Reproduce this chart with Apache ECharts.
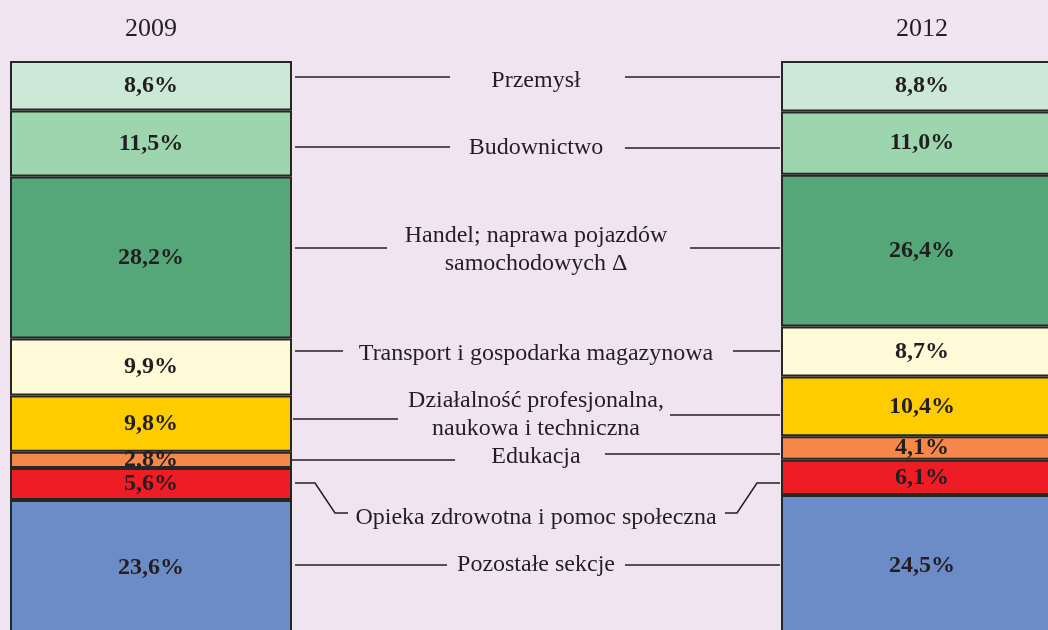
<!DOCTYPE html>
<html>
<head>
<meta charset="utf-8">
<script src="https://cdn.jsdelivr.net/npm/echarts@6/dist/echarts.min.js"></script>
<style>
  html, body { margin: 0; padding: 0; background: #f0e4f1; }
  #chart { width: 1048px; height: 630px; }
</style>
</head>
<body>
<div id="chart"></div>
<script>
// lata i udziały sekcji (%)
const years = ['2009', '2012'];
const sections = [
  'Przemysł',
  'Budownictwo',
  'Handel; naprawa pojazdów samochodowych',
  'Transport i gospodarka magazynowa',
  'Działalność profesjonalna, naukowa i techniczna',
  'Edukacja',
  'Opieka zdrowotna i pomoc społeczna',
  'Pozostałe sekcje',
];
const share2009 = [8.6, 11.5, 28.2, 9.9, 9.8, 2.8, 5.6, 23.6];
const share2012 = [8.8, 11.0, 26.4, 8.7, 10.4, 4.1, 6.1, 24.5];
const colors = ['#cce8d6', '#9dd5ae', '#55a678', '#fffbd9', '#ffcc00', '#f5874a', '#ee1c25', '#6b8cc6'];

const INK = '#231f20';
const SERIF = '"Liberation Serif", "DejaVu Serif", serif';

// opisy środkowe: linie łączące i teksty (adnotacje)
const notes = [
  { lines: ['Przemysł'], y: 81, left: [[295, 77], [450, 77]], right: [[625, 77], [780, 77]] },
  { lines: ['Budownictwo'], y: 148, left: [[295, 147], [450, 147]], right: [[625, 148], [780, 148]] },
  { lines: ['Handel; naprawa pojazdów', 'samochodowych \u0394'], y: 250, left: [[295, 248], [387, 248]], right: [[690, 248], [780, 248]] },
  { lines: ['Transport i gospodarka magazynowa'], y: 354, left: [[295, 351], [343, 351]], right: [[733, 351], [780, 351]] },
  { lines: ['Działalność profesjonalna,', 'naukowa i techniczna'], y: 415, left: [[293, 419], [398, 419]], right: [[670, 415], [780, 415]] },
  { lines: ['Edukacja'], y: 457, left: [[292, 460], [455, 460]], right: [[605, 454], [780, 454]] },
  { lines: ['Opieka zdrowotna i pomoc społeczna'], y: 518, left: [[295, 483], [315, 483], [335, 513], [348, 513]], right: [[725, 513], [737, 513], [757, 483], [780, 483]] },
  { lines: ['Pozostałe sekcje'], y: 565, left: [[295, 565], [447, 565]], right: [[625, 565], [780, 565]] },
];

const chart = echarts.init(document.getElementById('chart'), null, { renderer: 'canvas' });

const fmtPct = (v) => v.toFixed(1).replace('.', ',') + '%';

const series = sections.map((name, i) => ({
  name,
  type: 'bar',
  stack: 'total',
  barWidth: 282,
  clip: false,
  data: [share2009[i], share2012[i]],
  itemStyle: { color: colors[i], borderColor: '#262626', borderWidth: 2 },
  label: {
    show: true,
    position: 'inside',
    formatter: (p) => fmtPct(p.value),
    color: INK,
    fontFamily: SERIF,
    fontWeight: 'bold',
    fontSize: 24,
  },
  emphasis: { disabled: true },
}));

const graphic = [];
notes.forEach((n) => {
  [n.left, n.right].forEach((pts) => {
    graphic.push({
      type: 'polyline',
      shape: { points: pts },
      style: { stroke: INK, lineWidth: 1.5, fill: null },
      silent: true,
    });
  });
  const lh = 28;
  const y0 = n.y - (n.lines.length - 1) * lh / 2;
  n.lines.forEach((t, k) => {
    graphic.push({
      type: 'text',
      x: 536,
      y: y0 + k * lh,
      silent: true,
      style: {
        text: t,
        fill: INK,
        font: '24px ' + SERIF,
        textAlign: 'center',
        textVerticalAlign: 'middle',
      },
    });
  });
});

chart.setOption({
  backgroundColor: '#f0e4f1',
  animation: false,
  grid: { left: 151, right: 126, top: 61, bottom: 0 },
  xAxis: {
    type: 'category',
    data: years,
    boundaryGap: false,
    position: 'top',
    axisLine: { show: false },
    axisTick: { show: false },
    splitLine: { show: false },
    axisLabel: { color: INK, fontFamily: SERIF, fontSize: 26, margin: 19 },
  },
  // dolna część słupków wychodzi poza kadr, jak w oryginale
  yAxis: { type: 'value', min: 0, max: 99, inverse: true, show: false },
  series,
  graphic,
});
</script>
</body>
</html>
